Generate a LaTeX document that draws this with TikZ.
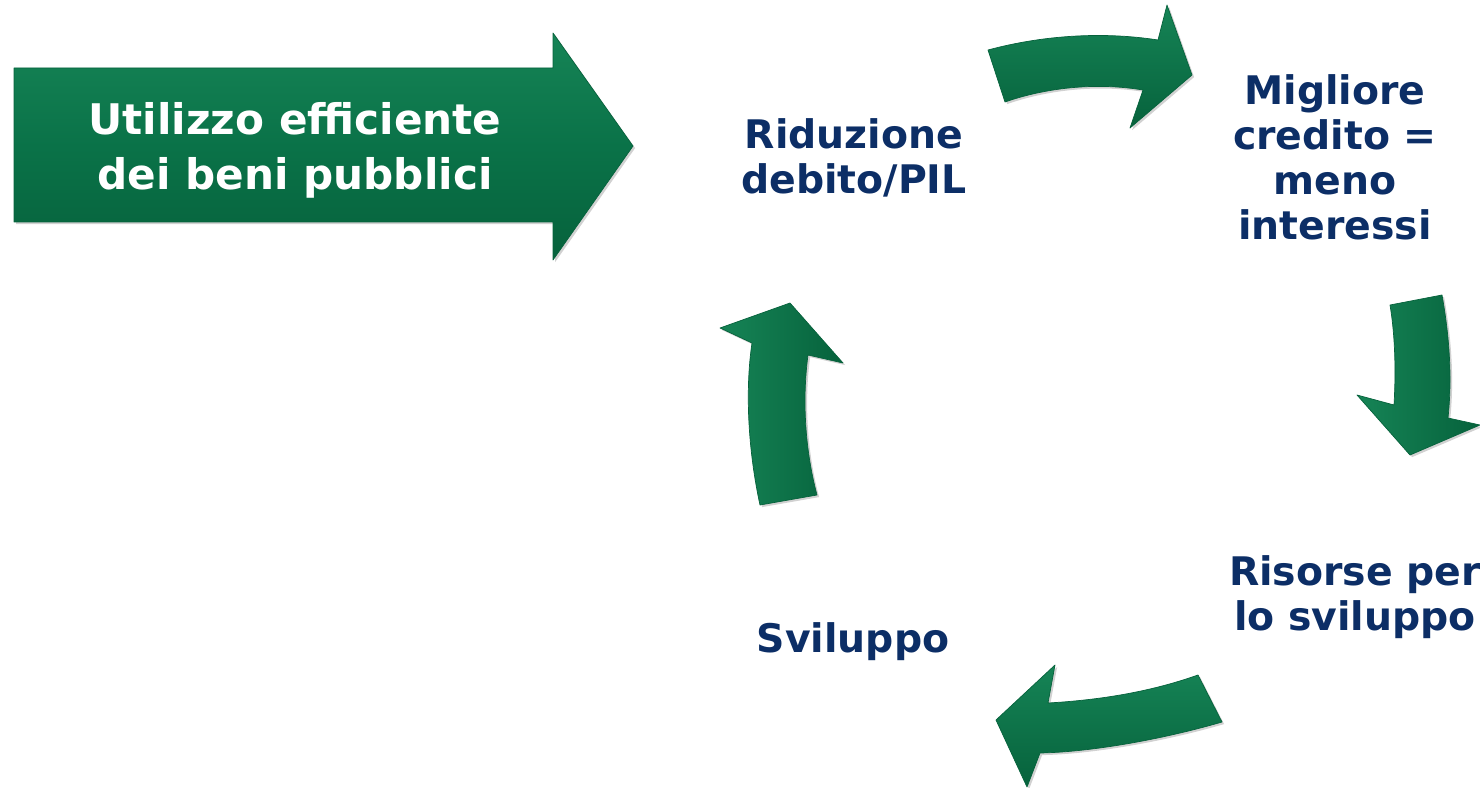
\documentclass[tikz,border=0pt]{standalone}
\usepackage{fontspec}
\setmainfont{DejaVu Sans}
\usetikzlibrary{positioning,shadows}

\definecolor{cyclenavy}{RGB}{12,46,102}
\definecolor{arrowgreen}{RGB}{10,114,72}
\definecolor{arrowlight}{RGB}{22,132,86}
\definecolor{arrowdark}{RGB}{6,98,60}

\tikzset{
  cyclelabel/.style={text=cyclenavy, font=\bfseries\fontsize{28}{32}\selectfont, align=center},
  bigtext/.style={text=white, font=\bfseries\fontsize{30}{39}\selectfont, align=center},
  bentarrow/.style={draw=arrowdark, line width=0.5pt, line join=round,
    drop shadow={opacity=0.3, fill=black!60, shadow xshift=1.5pt, shadow yshift=-1.5pt}},
}

\begin{document}
\begin{tikzpicture}[x=0.025cm, y=-0.025cm]
  \useasboundingbox (0,0) rectangle (1480,788);
  % big arrow
  \draw[bentarrow, top color=arrowlight, bottom color=arrowdark, middle color=arrowgreen]
    (14,68) -- (553,68) -- (553,33) -- (633,146) -- (553,260) -- (553,222) -- (14,222) -- cycle;
  \node[bigtext] (util) at (295,150) {Utilizzo efficiente\\dei beni pubblici};

  % cycle labels
  \node[cyclelabel] (ridu) at (854,158) {Riduzione\\debito/PIL};
  \node[cyclelabel] (migl) at (1335,157) {Migliore\\credito =\\meno\\interessi};
  \node[cyclelabel] (riso) at (1355,597) {Risorse per\\lo sviluppo};
  \node[cyclelabel] (svil) at (853,642) {Sviluppo};

  % bent arrows
  \draw[bentarrow, top color=arrowlight, bottom color=arrowdark]
    (988,50) .. controls (1040,36) and (1100,31) .. (1158,40) -- (1167,5) -- (1192,75)
    -- (1130,128) -- (1143,90) .. controls (1095,82) and (1045,88) .. (1005,102) -- cycle;
  \draw[bentarrow, left color=arrowlight, right color=arrowdark]
    (1390,305) -- (1442,295) .. controls (1450,340) and (1452,380) .. (1448,418)
    -- (1480,425) -- (1410,455) -- (1357,395) -- (1394,405)
    .. controls (1396,370) and (1395,335) .. (1390,305) -- cycle;
  \draw[bentarrow, top color=arrowlight, bottom color=arrowdark]
    (1198,675) -- (1222,722) .. controls (1160,740) and (1090,752) .. (1040,753)
    -- (1027,787) -- (996,720) -- (1055,665) -- (1048,703)
    .. controls (1100,700) and (1150,692) .. (1198,675) -- cycle;
  \draw[bentarrow, left color=arrowlight, right color=arrowdark]
    (760,505) -- (817,495) .. controls (805,450) and (802,400) .. (808,355)
    -- (843,363) -- (790,303) -- (720,328) -- (752,343)
    .. controls (745,390) and (748,450) .. (760,505) -- cycle;
\end{tikzpicture}
\end{document}
